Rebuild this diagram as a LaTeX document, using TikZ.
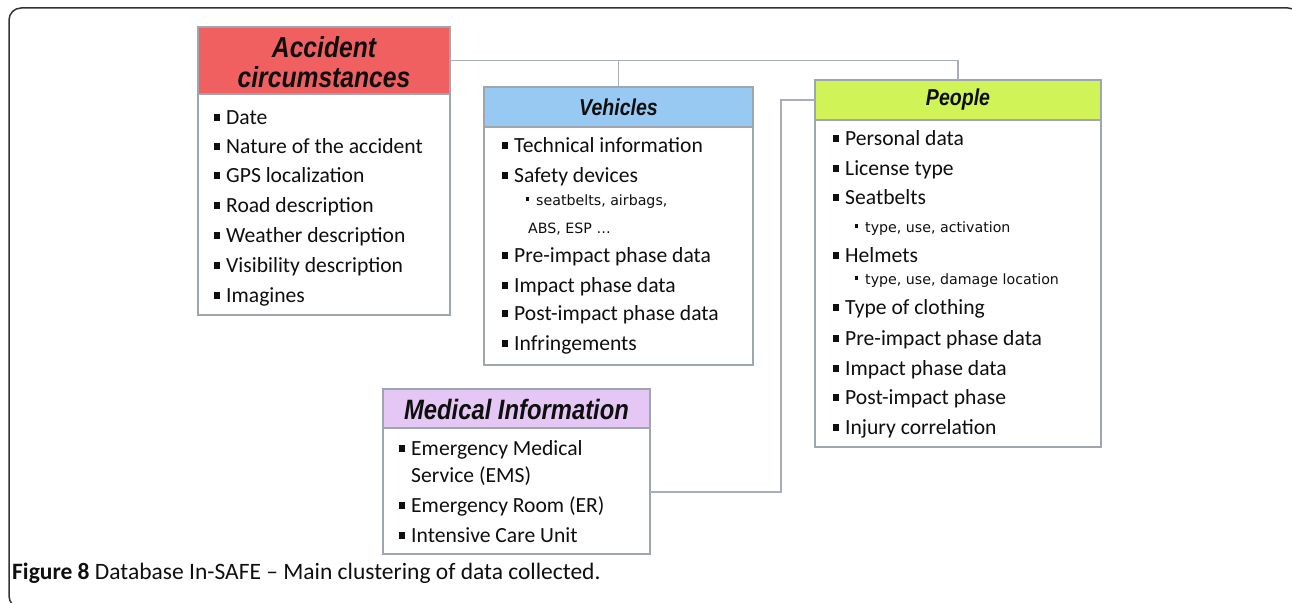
\documentclass[tikz,border=0pt]{standalone}
\usepackage{fontspec}
\setmainfont{Carlito}
\newfontfamily\ttlfont{Liberation Sans}
\newfontfamily\subfont{DejaVu Sans}
\usepackage{graphicx}
\definecolor{accred}{RGB}{241,96,96}
\definecolor{vehblue}{RGB}{152,201,243}
\definecolor{pplgreen}{RGB}{208,243,88}
\definecolor{medpurple}{RGB}{229,199,245}
\definecolor{boxgray}{RGB}{160,166,176}
\definecolor{linegray}{RGB}{168,173,183}
\definecolor{txt}{RGB}{15,15,15}
\newcommand\blt{\makebox[12pt][l]{\rule[3.5pt]{5.5pt}{6.5pt}}}
\newcommand\sblt{\makebox[10pt][l]{\rule[4pt]{3.2pt}{3.6pt}}}
\newcommand\ttl[2]{\scalebox{0.85}[1]{\fontsize{#1}{#1}\selectfont\ttlfont\bfseries\itshape #2}}
\tikzset{
  boxbody/.style={draw=boxgray, line width=1.1pt, fill=white, anchor=north west, inner sep=0, outer sep=0},
  headbox/.style={draw=boxgray, line width=1.1pt, anchor=north west, inner sep=0, outer sep=0},
  conn/.style={draw=linegray, line width=1.3pt},
  item/.style={anchor=base west, inner sep=0, text=txt, font=\fontsize{21.6}{26}\selectfont},
  subitem/.style={anchor=base west, inner sep=0, text=txt, font=\subfont\fontsize{14.2}{17}\selectfont},
  titletext/.style={inner sep=0, text=txt, align=center, font=\fontsize{29}{30}\selectfont}
}
\begin{document}
\begin{tikzpicture}[x=1pt,y=-1pt]
\useasboundingbox (0,0) rectangle (1292,602);
\begin{scope}
\clip (0,0) rectangle (1292,602);
\draw[rounded corners=12pt, line width=1.5pt, black!80] (9,8) rectangle (1300,608);
\end{scope}

% boxes
\node[boxbody, minimum width=252pt, minimum height=288pt] (accBox) at (198,27) {};
\node[headbox, fill=accred, minimum width=252pt, minimum height=67pt] (accHead) at (198,27) {};
\node[boxbody, minimum width=269pt, minimum height=278pt] (vehBox) at (484,87) {};
\node[headbox, fill=vehblue, minimum width=269pt, minimum height=40pt] (vehHead) at (484,87) {};
\node[boxbody, minimum width=286pt, minimum height=367pt] (pplBox) at (815,80) {};
\node[headbox, fill=pplgreen, minimum width=286pt, minimum height=40pt] (pplHead) at (815,80) {};
\node[boxbody, minimum width=267pt, minimum height=165pt] (medBox) at (383,389) {};
\node[headbox, fill=medpurple, minimum width=267pt, minimum height=39pt] (medHead) at (383,389) {};

% connectors
\draw[conn] (accHead.east) -| (pplHead.north);
\draw[conn] (accHead.east -| vehHead.north) -- (vehHead.north);
\draw[conn] (pplHead.west) -- ++(-34,0) |- ([yshift=-20.5pt]medBox.east);

% titles
\node[titletext] (accTitle) at (324,62) {\ttl{29}{Accident}\\\ttl{29}{circumstances}};
\node[titletext] (vehTitle) at (618.5,107) {\ttl{23}{Vehicles}};
\node[titletext] (pplTitle) at (958,100) {\ttl{23}{People}};
\node[titletext] (medTitle) at (516.5,409) {\ttl{28}{Medical Information}};

% accident items
\node[item] (a1) at (214,124) {\blt Date};
\node[item] (a2) at (214,153) {\blt Nature of the accident};
\node[item] (a3) at (214,182) {\blt GPS localization};
\node[item] (a4) at (214,212) {\blt Road description};
\node[item] (a5) at (214,242) {\blt Weather description};
\node[item] (a6) at (214,272) {\blt Visibility description};
\node[item] (a7) at (214,302) {\blt Imagines};

% vehicles items
\node[item] (v1) at (502,152) {\blt Technical information};
\node[item] (v2) at (502,182) {\blt Safety devices};
\node[subitem] (v3) at (526,205) {\sblt seatbelts, airbags,};
\node[subitem] (v4) at (528,233) {ABS, ESP \dots};
\node[item] (v5) at (502,262) {\blt Pre-impact phase data};
\node[item] (v6) at (502,292) {\blt Impact phase data};
\node[item] (v7) at (502,320) {\blt Post-impact phase data};
\node[item] (v8) at (502,350) {\blt Infringements};

% people items
\node[item] (p1) at (833,145) {\blt Personal data};
\node[item] (p2) at (833,175) {\blt License type};
\node[item] (p3) at (833,204) {\blt Seatbelts};
\node[subitem] (p4) at (855,232) {\sblt type, use, activation};
\node[item] (p5) at (833,262) {\blt Helmets};
\node[subitem] (p6) at (855,284) {\sblt type, use, damage location};
\node[item] (p7) at (833,314) {\blt Type of clothing};
\node[item] (p8) at (833,345) {\blt Pre-impact phase data};
\node[item] (p9) at (833,375) {\blt Impact phase data};
\node[item] (p10) at (833,404) {\blt Post-impact phase};
\node[item] (p11) at (833,434) {\blt Injury correlation};

% medical items
\node[item] (m1) at (399,455) {\blt Emergency Medical};
\node[item] (m2) at (411,482) {Service (EMS)};
\node[item] (m3) at (399,512) {\blt Emergency Room (ER)};
\node[item] (m4) at (399,542) {\blt Intensive Care Unit};

% caption
\node[anchor=base west, inner sep=0, text=txt, font=\fontsize{23.5}{26}\selectfont] (cap) at (12,579) {\textbf{Figure 8} Database In-SAFE -- Main clustering of data collected.};
\end{tikzpicture}
\end{document}
